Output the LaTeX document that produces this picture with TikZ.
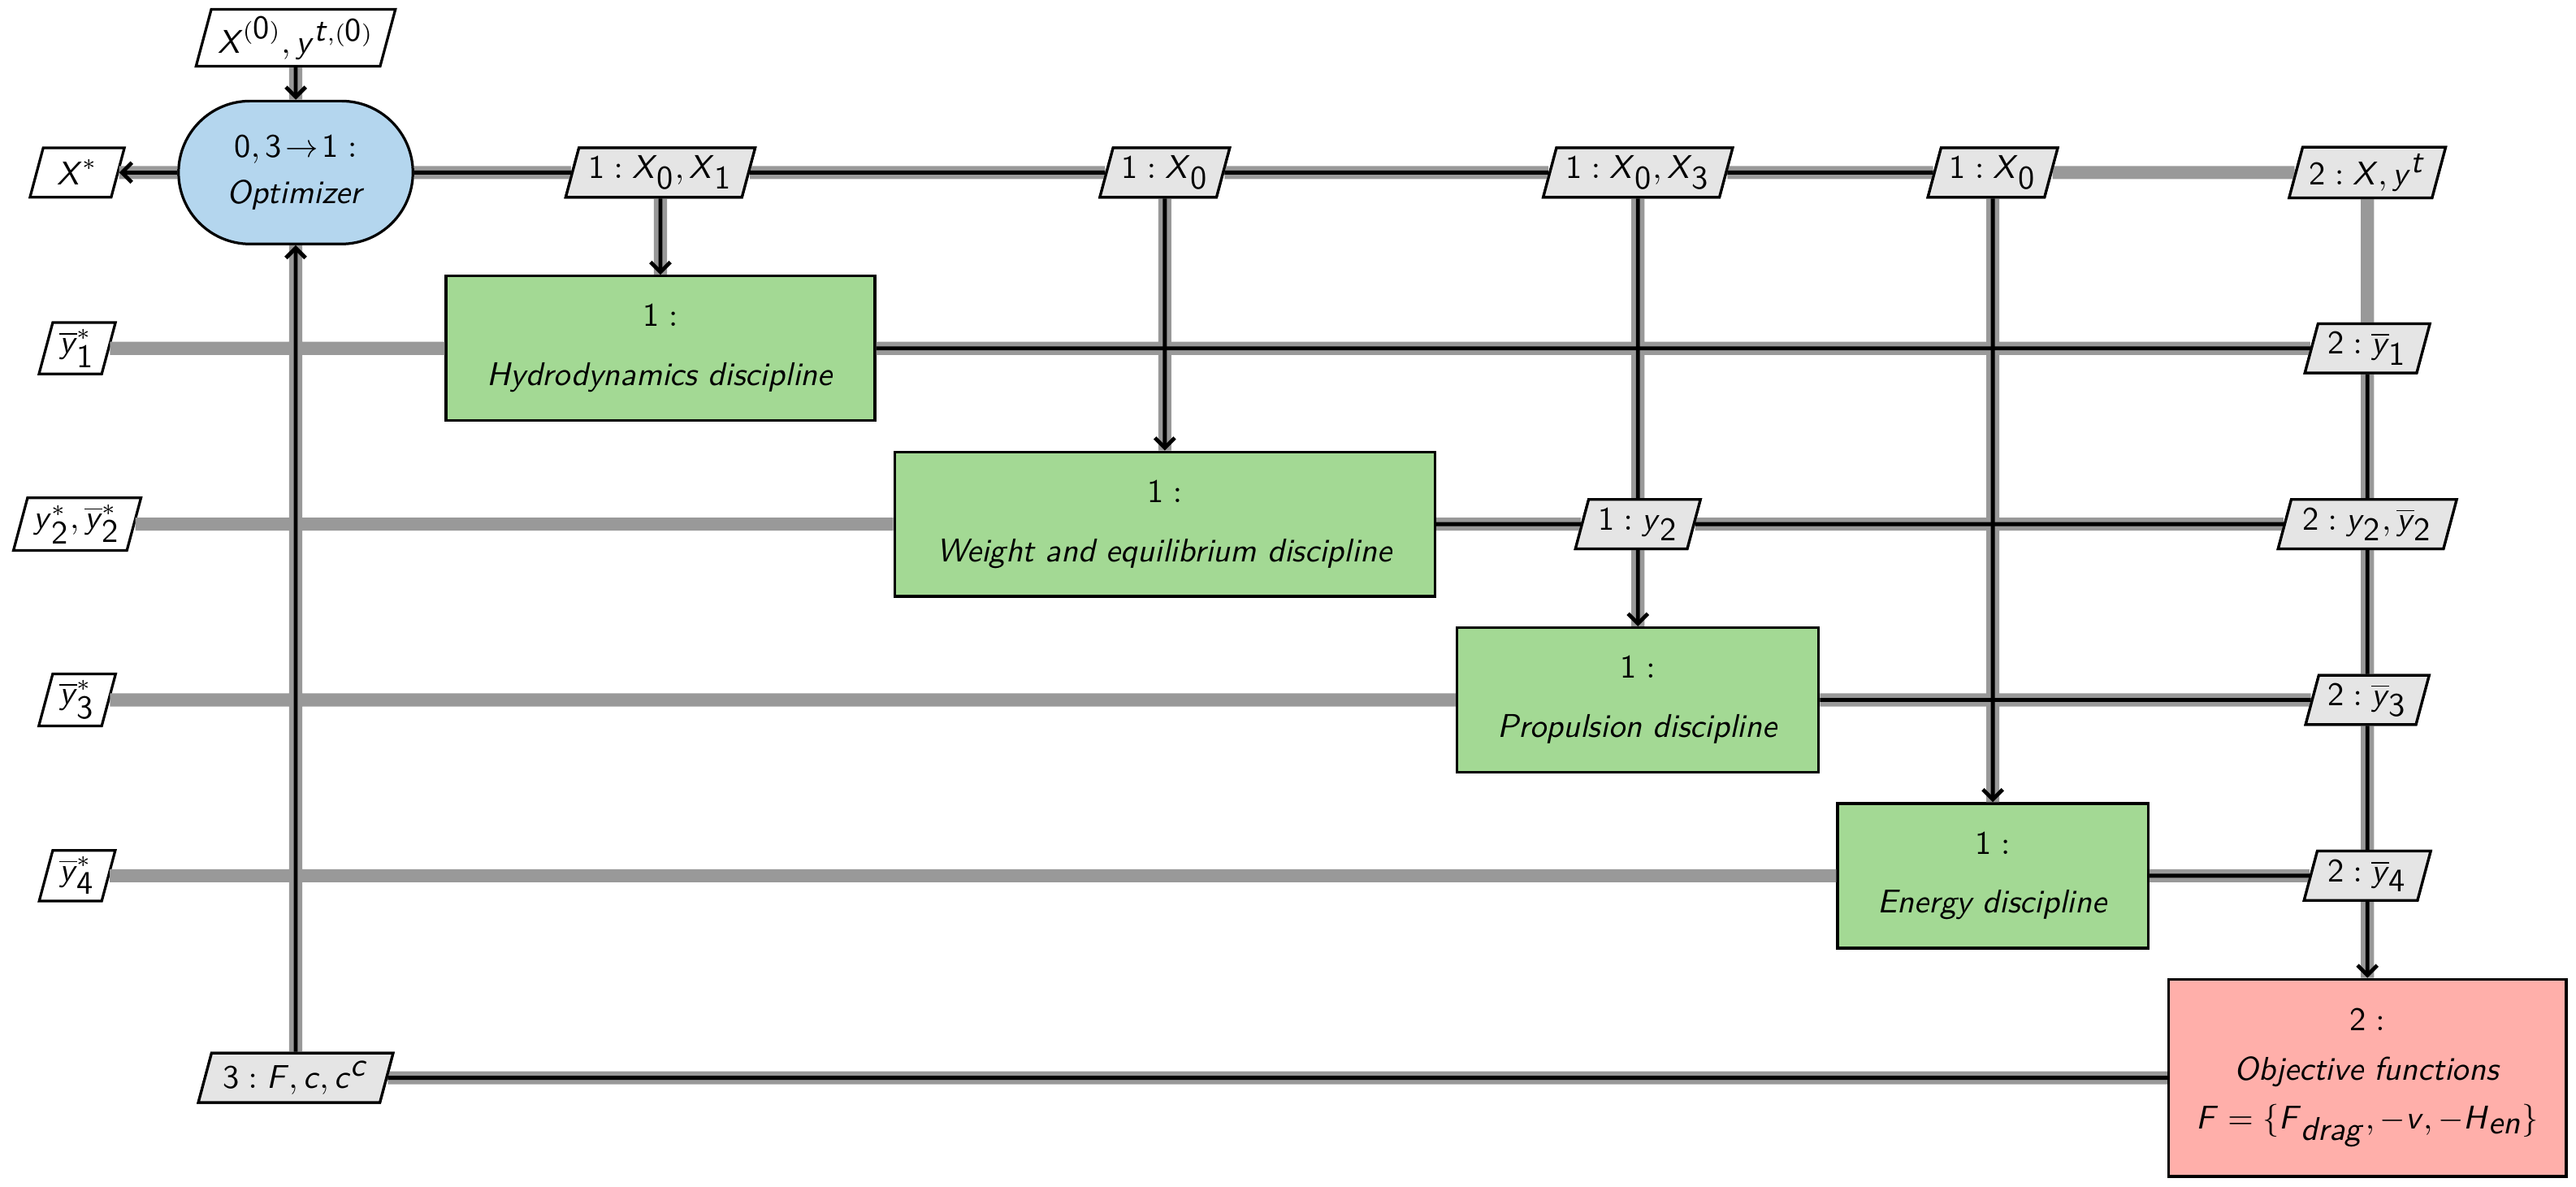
\documentclass[tikz,border=0pt]{standalone}
\usetikzlibrary{shapes.geometric,shapes.misc,arrows.meta}
\newcommand{\vi}[1]{\textsf{\textit{#1}}}
\newcommand{\vn}[1]{\textsf{#1}}
\begin{document}
\sffamily
\begin{tikzpicture}[x=0.5pt,y=-0.5pt,
  dat/.style={trapezium,trapezium left angle=75,trapezium right angle=105,draw,fill=gray!20,thick,inner sep=2pt,minimum height=15pt,font=\normalsize},
  io/.style={dat,fill=white},
  gline/.style={line width=4pt,draw=black!40},
  pline/.style={line width=1.2pt,draw=black},
  parr/.style={pline,-{Straight Barb[length=3pt,width=6pt]}}]
\useasboundingbox (0,0) rectangle (1568,722);
\definecolor{disccol}{RGB}{163,217,148}
\definecolor{optcol}{RGB}{180,214,238}
\definecolor{objcol}{RGB}{255,175,170}
% nodes
\node[draw,thick,fill=optcol,rounded rectangle,minimum width=78pt,minimum height=43.5pt,align=center] (opt) at (180,105) {$\vn{0},\vn{3}\!\rightarrow\!\vn{1}:$\\[2pt]\textit{Optimizer}};
\node[draw,thick,fill=disccol,minimum width=130.5pt,minimum height=44pt,align=center] (hyd) at (402,212) {$\vn{1}:$\\[6pt]\textit{Hydrodynamics discipline}};
\node[draw,thick,fill=disccol,minimum width=164.5pt,minimum height=44pt,align=center] (wei) at (709,319) {$\vn{1}:$\\[6pt]\textit{Weight and equilibrium discipline}};
\node[draw,thick,fill=disccol,minimum width=110pt,minimum height=44pt,align=center] (pro) at (997,426) {$\vn{1}:$\\[6pt]\textit{Propulsion discipline}};
\node[draw,thick,fill=disccol,minimum width=94.5pt,minimum height=44pt,align=center] (ene) at (1213,533) {$\vn{1}:$\\[6pt]\textit{Energy discipline}};
\node[draw,thick,fill=objcol,minimum width=121pt,minimum height=60pt,align=center] (obj) at (1441,656) {$\vn{2}:$\\[3pt]\textit{Objective functions}\\[3pt]$\vi{F}=\{\vi{F}_{\vi{drag}},-\vi{v},-\vi{H}_{\vi{en}}\}$};
% io
\node[io] (in) at (180,23) {$\vi{X}^{(\vn{0})},\vi{y}^{\vi{t},(\vn{0})}$};
\node[io] (xs) at (47,105) {$\vi{X}^{*}$};
\node[io] (o1) at (47,212) {$\overline{\vi{y}}_{\vn{1}}^{*}$};
\node[io] (o2) at (47,319) {$\vi{y}_{\vn{2}}^{*},\overline{\vi{y}}_{\vn{2}}^{*}$};
\node[io] (o3) at (47,426) {$\overline{\vi{y}}_{\vn{3}}^{*}$};
\node[io] (o4) at (47,533) {$\overline{\vi{y}}_{\vn{4}}^{*}$};
% data
\node[dat] (d01) at (402,105) {$\vn{1}:\vi{X}_{\vn{0}},\vi{X}_{\vn{1}}$};
\node[dat] (d02) at (709,105) {$\vn{1}:\vi{X}_{\vn{0}}$};
\node[dat] (d03) at (997,105) {$\vn{1}:\vi{X}_{\vn{0}},\vi{X}_{\vn{3}}$};
\node[dat] (d04) at (1213,105) {$\vn{1}:\vi{X}_{\vn{0}}$};
\node[dat] (d05) at (1441,105) {$\vn{2}:\vi{X},\vi{y}^{\vi{t}}$};
\node[dat] (d15) at (1441,212) {$\vn{2}:\overline{\vi{y}}_{\vn{1}}$};
\node[dat] (d23) at (997,319) {$\vn{1}:\vi{y}_{\vn{2}}$};
\node[dat] (d25) at (1441,319) {$\vn{2}:\vi{y}_{\vn{2}},\overline{\vi{y}}_{\vn{2}}$};
\node[dat] (d35) at (1441,426) {$\vn{2}:\overline{\vi{y}}_{\vn{3}}$};
\node[dat] (d45) at (1441,533) {$\vn{2}:\overline{\vi{y}}_{\vn{4}}$};
\node[dat] (d50) at (180,656) {$\vn{3}:\vi{F},\vi{c},\vi{c}^{\vi{c}}$};
% gray data lines
\path[gline]
  (in) -- (opt) (opt) -- (xs)
  (opt) -- (d01) -- (d02) -- (d03) -- (d04) -- (d05)
  (d01) -- (hyd) (d02) -- (wei) (d03) -- (d23) (d23) -- (pro) (d04) -- (ene) (d05) -- (d15)
  (o1) -- (hyd) (hyd) -- (d15)
  (o2) -- (wei) (wei) -- (d23) (d23) -- (d25)
  (o3) -- (pro) (pro) -- (d35)
  (o4) -- (ene) (ene) -- (d45)
  (d15) -- (d25) -- (d35) -- (d45) -- (obj)
  (d50) -- (obj) (d50) -- (opt);
% black process lines
\draw[parr] (in) -- (opt);
\draw[parr] (opt) -- (xs);
\draw[pline] (opt) -- (d01) -- (d02) -- (d03) -- (d04);
\draw[parr] (d01) -- (hyd);
\draw[parr] (d02) -- (wei);
\draw[pline] (d03) -- (d23);
\draw[parr] (d23) -- (pro);
\draw[parr] (d04) -- (ene);
\draw[pline] (hyd) -- (d15);
\draw[pline] (wei) -- (d23) -- (d25);
\draw[pline] (pro) -- (d35);
\draw[pline] (ene) -- (d45);
\draw[pline] (d15) -- (d25) -- (d35) -- (d45);
\draw[parr] (d45) -- (obj);
\draw[pline] (obj) -- (d50);
\draw[parr] (d50) -- (opt);
% redraw data nodes on top
\node[dat] at (d01) {$\vn{1}:\vi{X}_{\vn{0}},\vi{X}_{\vn{1}}$};
\node[dat] at (d02) {$\vn{1}:\vi{X}_{\vn{0}}$};
\node[dat] at (d03) {$\vn{1}:\vi{X}_{\vn{0}},\vi{X}_{\vn{3}}$};
\node[dat] at (d04) {$\vn{1}:\vi{X}_{\vn{0}}$};
\node[dat] at (d05) {$\vn{2}:\vi{X},\vi{y}^{\vi{t}}$};
\node[dat] at (d15) {$\vn{2}:\overline{\vi{y}}_{\vn{1}}$};
\node[dat] at (d23) {$\vn{1}:\vi{y}_{\vn{2}}$};
\node[dat] at (d25) {$\vn{2}:\vi{y}_{\vn{2}},\overline{\vi{y}}_{\vn{2}}$};
\node[dat] at (d35) {$\vn{2}:\overline{\vi{y}}_{\vn{3}}$};
\node[dat] at (d45) {$\vn{2}:\overline{\vi{y}}_{\vn{4}}$};
\node[dat] at (d50) {$\vn{3}:\vi{F},\vi{c},\vi{c}^{\vi{c}}$};
\end{tikzpicture}
\end{document}
